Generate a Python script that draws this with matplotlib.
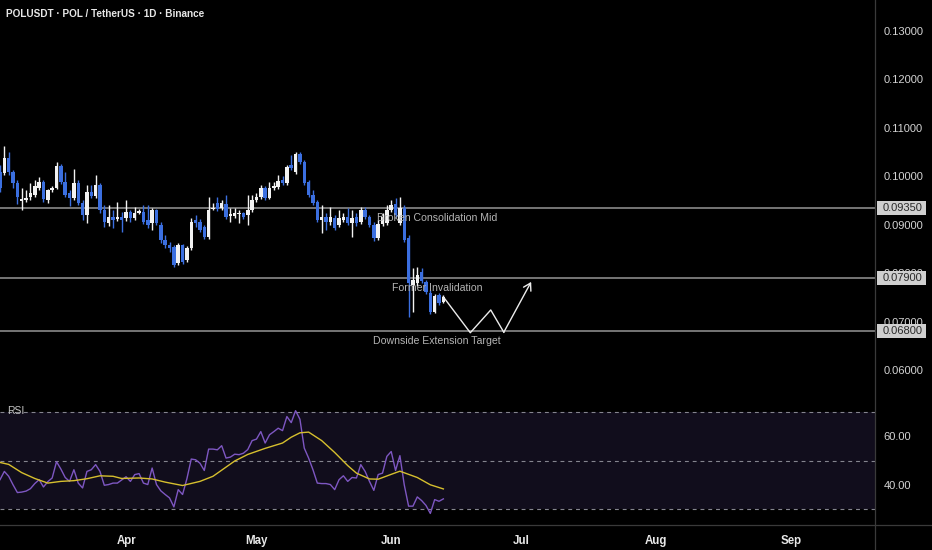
import numpy as np
import pandas as pd
import matplotlib
matplotlib.use("Agg")
import matplotlib.pyplot as plt
import matplotlib.dates as mdates
import matplotlib.transforms as mtransforms
from matplotlib.lines import Line2D
from matplotlib.patches import Rectangle

plt.rcParams['font.family'] = ['Liberation Sans', 'DejaVu Sans']

# ---------------- data ----------------
start_date = "2025-03-03"
opens = [.1009, .1007, .1038, .1009, .0986, .0949, .0951, .0957, .0961, .0976,
         .0988, .0951, .0972, .0976, .1021, .0988, .0965, .0955, .0986, .0945,
         .0920, .0968, .0959, .0982, .0930, .0903, .0916, .0912, .0916, .0914,
         .0926, .0914, .0924, .0926, .0910, .0903, .0930, .0899, .0868, .0858,
         .0854, .0821, .0858, .0827, .0852, .0910, .0906, .0895, .0875, .0932,
         .0945, .0935, .0943, .0918, .0918, .0922, .0924, .0920, .0930, .0951,
         .0957, .0976, .0955, .0976, .0978, .0992, .0986, .1023, .1009, .1046,
         .1029, .0988, .0961, .0947, .0910, .0916, .0906, .0914, .0899, .0910,
         .0916, .0903, .0916, .0906, .0930, .0916, .0899, .0873, .0901, .0903,
         .0930, .0943, .0903, .0935, .0873, .0775, .0780, .0802, .0782, .0759,
         .0720, .0755, .0740]
highs = [.1023, .1063, .1050, .1013, .0992, .0976, .0972, .0986, .0992, .0999,
         .0992, .0974, .0980, .1029, .1025, .1009, .0972, .1015, .0992, .0951,
         .0982, .0982, .1003, .0986, .0941, .0941, .0930, .0947, .0926, .0951,
         .0930, .0937, .0932, .0941, .0941, .0935, .0932, .0906, .0879, .0864,
         .0858, .0862, .0860, .0856, .0914, .0920, .0912, .0899, .0957, .0945,
         .0957, .0951, .0961, .0935, .0935, .0930, .0926, .0961, .0961, .0965,
         .0982, .0980, .0988, .0988, .1003, .1001, .1023, .1044, .1050, .1050,
         .1034, .0992, .0972, .0951, .0941, .0924, .0937, .0920, .0930, .0924,
         .0935, .0930, .0924, .0937, .0937, .0920, .0906, .0910, .0924, .0941,
         .0951, .0955, .0957, .0941, .0879, .0811, .0813, .0811, .0786, .0765,
         .0757, .0759, .0755]
lows = [.0968, .1003, .1003, .0976, .0943, .0930, .0947, .0951, .0957, .0972,
        .0947, .0945, .0968, .0974, .0984, .0957, .0939, .0951, .0941, .0910,
        .0903, .0955, .0955, .0924, .0895, .0897, .0893, .0908, .0885, .0908,
        .0906, .0910, .0922, .0901, .0893, .0889, .0899, .0862, .0852, .0844,
        .0813, .0817, .0819, .0823, .0848, .0895, .0885, .0870, .0870, .0930,
        .0928, .0930, .0912, .0906, .0914, .0903, .0912, .0899, .0926, .0947,
        .0953, .0951, .0953, .0972, .0974, .0982, .0982, .1013, .1005, .1025,
        .0982, .0957, .0941, .0906, .0883, .0889, .0899, .0889, .0895, .0906,
        .0899, .0875, .0897, .0901, .0912, .0895, .0866, .0868, .0897, .0899,
        .0926, .0916, .0899, .0864, .0710, .0720, .0773, .0780, .0757, .0716,
        .0718, .0734, .0738]
closes = [.0976, .1038, .1009, .0986, .0957, .0953, .0955, .0965, .0980, .0988,
          .0953, .0972, .0976, .1021, .0988, .0961, .0955, .0986, .0945, .0920,
          .0968, .0959, .0982, .0930, .0906, .0916, .0910, .0916, .0910, .0926,
          .0914, .0924, .0928, .0906, .0899, .0930, .0903, .0868, .0858, .0852,
          .0817, .0858, .0823, .0852, .0906, .0903, .0889, .0875, .0930, .0935,
          .0932, .0945, .0916, .0922, .0924, .0924, .0916, .0930, .0951, .0957,
          .0976, .0955, .0976, .0980, .0990, .0986, .1019, .1017, .1046, .1029,
          .0986, .0961, .0945, .0910, .0916, .0906, .0916, .0893, .0914, .0916,
          .0903, .0914, .0903, .0930, .0916, .0899, .0873, .0901, .0916, .0930,
          .0941, .0920, .0935, .0868, .0780, .0786, .0796, .0784, .0761, .0720,
          .0753, .0738, .0751]
rsi = [42.1, 45.5, 43.5, 40.0, 36.8, 37.0, 37.4, 38.4, 40.5, 42.1,
       39.1, 41.3, 42.8, 49.5, 46.5, 43.0, 41.4, 46.2, 40.7, 38.7,
       45.5, 46.2, 48.3, 45.5, 39.8, 40.1, 40.7, 40.7, 42.0, 43.3,
       41.4, 44.2, 44.6, 40.7, 40.1, 46.9, 40.1, 37.5, 36.0, 34.6,
       30.9, 38.0, 36.0, 42.5, 50.6, 50.3, 48.9, 45.9, 54.7, 54.7,
       54.4, 56.1, 51.0, 51.4, 52.6, 52.4, 53.0, 54.5, 58.2, 58.8,
       61.9, 57.2, 60.6, 61.9, 63.3, 62.3, 68.1, 65.6, 70.5, 67.0,
       55.1, 51.0, 46.2, 40.7, 40.5, 40.5, 40.1, 38.0, 42.1, 43.7,
       41.4, 43.0, 42.8, 48.3, 45.5, 41.4, 37.7, 44.2, 44.8, 51.7,
       53.7, 45.9, 52.0, 40.0, 31.2, 31.2, 35.0, 33.5, 31.5, 28.2,
       33.9, 33.2, 34.2]
rsi_ma_day = [0, 2, 5, 8, 11, 14, 17, 20, 23, 26, 28, 32, 35, 38, 42, 46, 49, 54, 57,
              61, 65, 67, 69, 71, 74, 77, 80, 82, 85, 87, 90, 92, 96, 99, 102]
rsi_ma = [49.2, 48.4, 45.0, 42.6, 40.7, 41.4, 41.7, 42.5, 43.7, 43.5, 42.6, 42.8, 42.4,
          41.1, 39.7, 41.4, 43.5, 49.8, 52.5, 55.0, 57.2, 59.6, 61.4, 61.7, 58.2, 53.3,
          47.9, 44.8, 42.4, 42.3, 44.3, 45.6, 43.0, 40.0, 38.3]
levels = [0.0935, 0.0790, 0.0680]
level_names = ["Broken Consolidation Mid", "Former Invalidation", "Downside Extension Target"]
proj_day = [102, 108.2, 112.9, 115.9, 122.2]
proj_price = [0.0751, 0.0677, 0.0724, 0.0678, 0.0782]
price_ticks = [0.06, 0.07, 0.08, 0.09, 0.10, 0.11, 0.12, 0.13]
rsi_ticks = [40, 60]
month_ticks = ["2025-04-01", "2025-05-01", "2025-06-01", "2025-07-01", "2025-08-01", "2025-09-01"]
month_labels = ["Apr", "May", "Jun", "Jul", "Aug", "Sep"]
title = "POLUSDT · POL / TetherUS · 1D · Binance"

# ---------------- figure ----------------
W, H = 932, 550
fig = plt.figure(figsize=(W / 100, H / 100), dpi=100, facecolor='black')
ax = fig.add_axes([0, 152 / H, 875 / W, 398 / H], facecolor='black')
axr = fig.add_axes([0, 25 / H, 875 / W, 127 / H], facecolor='black', sharex=ax)

d0 = mdates.date2num(pd.Timestamp(start_date))
dates = pd.date_range(start_date, periods=len(opens), freq='D')
x = mdates.date2num(dates)
O = np.array(opens); Hh = np.array(highs); L = np.array(lows); C = np.array(closes)
up = C >= O
col = np.where(up, '#f2f2f2', '#3b6fe0')

ax.vlines(x, L, Hh, colors=col, lw=1.0, zorder=3)
ax.bar(x, np.maximum(np.abs(C - O), 0.00012), bottom=np.minimum(O, C), width=0.8,
       color=col, linewidth=0, zorder=4)

ylo, yhi = 0.054222, 0.136401
ax.set_xlim(d0, d0 + 201.3)
ax.set_ylim(ylo, yhi)

text_x = d0 + 100.6
for lv, nm in zip(levels, level_names):
    ax.axhline(lv, color='#8a8a8a', lw=1.2, zorder=2)
    ax.annotate(nm, xy=(text_x, lv), xytext=(0, -3.5), textcoords='offset points',
                ha='center', va='top', color='#b4b4b4', fontsize=7.6, zorder=5)

# projection path
px = [d0 + v for v in proj_day]
ax.plot(px[:-1], proj_price[:-1], color='#ececec', lw=1.0, zorder=6)
ax.annotate('', xy=(px[-1], proj_price[-1]), xytext=(px[-2], proj_price[-2]),
            arrowprops=dict(arrowstyle='->,head_length=0.5,head_width=0.3',
                            color='#ececec', lw=1.0, shrinkA=0, shrinkB=0), zorder=6)

ax.yaxis.tick_right()
ax.set_yticks(price_ticks)
ax.set_yticklabels([f"{t:.5f}" for t in price_ticks])
ax.tick_params(axis='y', length=0, pad=6, labelsize=8.0, labelcolor='#d4d4d4')
ax.tick_params(axis='x', length=0, labelbottom=False)

# highlighted level labels on the price scale
btr = mtransforms.blended_transform_factory(fig.transFigure, ax.transData)
box_h = 14 * (yhi - ylo) / 398
for lv in levels:
    fig.add_artist(Rectangle((877 / W, lv - box_h / 2), 49 / W, box_h, transform=btr,
                             facecolor='#cfcfcf', edgecolor='none', zorder=5))
    fig.add_artist(plt.Text(883 / W, lv, f"{lv:.5f}", transform=btr, ha='left', va='center',
                            fontsize=8.0, color='#2a2a2a', zorder=6))

for s in ax.spines.values():
    s.set_visible(False)

# ---------------- RSI ----------------
axr.axhspan(30, 70, color='#110d1c', lw=0, zorder=0)
for lvl in (70, 50, 30):
    axr.axhline(lvl, color='#85858f', lw=0.8, dashes=(3.5, 3.5), zorder=1)
axr.plot(x, rsi, color='#7e57c2', lw=1.0, zorder=3)
axr.plot([d0 + v for v in rsi_ma_day], rsi_ma, color='#d6bf2e', lw=1.0, zorder=4)
axr.set_ylim(23.44, 75.74)
axr.yaxis.tick_right()
axr.set_yticks(rsi_ticks)
axr.set_yticklabels([f"{t:.2f}" for t in rsi_ticks])
axr.tick_params(axis='y', length=0, pad=6, labelsize=8.0, labelcolor='#d4d4d4')
axr.set_xticks(mdates.date2num(pd.to_datetime(month_ticks)))
axr.set_xticklabels(month_labels)
axr.tick_params(axis='x', length=0, pad=7, labelsize=8.3, labelcolor='#e8e8e8')
for lab in axr.get_xticklabels():
    lab.set_fontweight('bold')
for s in axr.spines.values():
    s.set_visible(False)

# frame lines
fig.add_artist(Line2D([875 / W, 875 / W], [0, 1], transform=fig.transFigure, color='#3a3a3a', lw=0.9))
fig.add_artist(Line2D([0, 1], [25 / H, 25 / H], transform=fig.transFigure, color='#3a3a3a', lw=0.9))

fig.text(6 / W, 1 - 14 / H, title, color='#e6e6e6', fontsize=7.2, fontweight='bold', va='center', ha='left')
fig.text(7 / W, 1 - 411 / H, "RSI", color='#c4c4c4', fontsize=7.5, va='center', ha='left')

fig.savefig("out.png", dpi=100, facecolor='black')
